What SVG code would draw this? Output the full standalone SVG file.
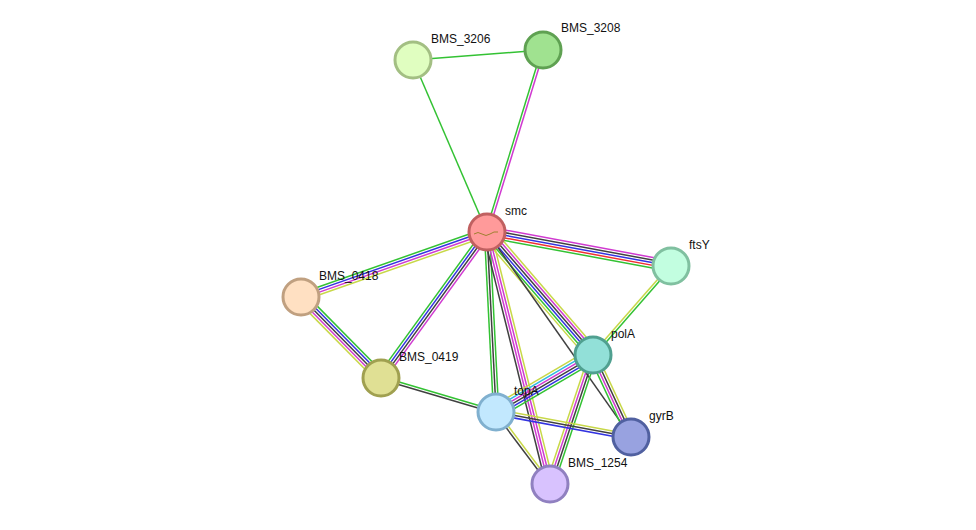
<svg xmlns="http://www.w3.org/2000/svg" width="976" height="530" viewBox="0 0 976 530">
<style>
line{stroke-width:1.5;fill:none}
.g{stroke:#33c233}.m{stroke:#d03ad0}.b{stroke:#3333e0}.k{stroke:#404040}.y{stroke:#c8d848}.r{stroke:#f03030}.c{stroke:#30b8e0}
circle{stroke-width:3}
text{font-family:"Liberation Sans",Arial,sans-serif;font-size:12px;fill:#111}
</style>
<rect width="976" height="530" fill="#fff"/>
<g id="edges">
<g transform="translate(413,60) rotate(-4.4)"><line class="g" x1="0" y1="0" x2="130" y2="0"/></g>
<g transform="translate(487,232) rotate(-113.3)"><line class="g" x1="0" y1="0" x2="187" y2="0"/></g>
<g transform="translate(487,232) rotate(-72.9)"><line class="g" x1="0" y1="-1.3" x2="190" y2="-1.3"/><line class="m" x1="0" y1="1.3" x2="190" y2="1.3"/></g>
<g transform="translate(487,232) rotate(10.5)"><line class="m" x1="0" y1="-5.2" x2="187" y2="-5.2"/><line class="k" x1="0" y1="-2.6" x2="187" y2="-2.6"/><line class="b" x1="0" y1="0" x2="187" y2="0"/><line class="r" x1="0" y1="2.6" x2="187" y2="2.6"/><line class="g" x1="0" y1="5.2" x2="187" y2="5.2"/></g>
<g transform="translate(487,232) rotate(160.7)"><line class="g" x1="0" y1="3.9" x2="197" y2="3.9"/><line class="b" x1="0" y1="1.3" x2="197" y2="1.3"/><line class="m" x1="0" y1="-1.3" x2="197" y2="-1.3"/><line class="y" x1="0" y1="-3.9" x2="197" y2="-3.9"/></g>
<g transform="translate(487,232) rotate(126)"><line class="g" x1="0" y1="3.9" x2="180" y2="3.9"/><line class="b" x1="0" y1="1.3" x2="180" y2="1.3"/><line class="k" x1="0" y1="-1.3" x2="180" y2="-1.3"/><line class="m" x1="0" y1="-3.9" x2="180" y2="-3.9"/></g>
<g transform="translate(487,232) rotate(49.2)"><line class="y" x1="0" y1="-6.5" x2="162" y2="-6.5"/><line class="m" x1="0" y1="-3.9" x2="162" y2="-3.9"/><line class="k" x1="0" y1="-1.3" x2="162" y2="-1.3"/><line class="b" x1="0" y1="1.3" x2="162" y2="1.3"/><line class="g" x1="0" y1="3.9" x2="162" y2="3.9"/><line class="y" x1="0" y1="6.5" x2="162" y2="6.5"/></g>
<g transform="translate(487,232) rotate(87.1)"><line class="g" x1="0" y1="-2.6" x2="180" y2="-2.6"/><line class="k" x1="0" y1="0" x2="180" y2="0"/><line class="g" x1="0" y1="2.6" x2="180" y2="2.6"/></g>
<g transform="translate(487,232) rotate(76)"><line class="y" x1="0" y1="-3.9" x2="260" y2="-3.9"/><line class="m" x1="0" y1="-1.3" x2="260" y2="-1.3"/><line class="m" x1="0" y1="1.3" x2="260" y2="1.3"/><line class="k" x1="0" y1="3.9" x2="260" y2="3.9"/></g>
<g transform="translate(487,232) rotate(54.9)"><line class="k" x1="0" y1="0" x2="251" y2="0"/></g>
<g transform="translate(671,266) rotate(131.2)"><line class="g" x1="0" y1="-1.3" x2="118" y2="-1.3"/><line class="y" x1="0" y1="1.3" x2="118" y2="1.3"/></g>
<g transform="translate(301,297) rotate(45.4)"><line class="y" x1="0" y1="5.2" x2="114" y2="5.2"/><line class="m" x1="0" y1="2.6" x2="114" y2="2.6"/><line class="k" x1="0" y1="0" x2="114" y2="0"/><line class="b" x1="0" y1="-2.6" x2="114" y2="-2.6"/><line class="g" x1="0" y1="-5.2" x2="114" y2="-5.2"/></g>
<g transform="translate(381,378) rotate(16.5)"><line class="g" x1="0" y1="-1.3" x2="120" y2="-1.3"/><line class="k" x1="0" y1="1.3" x2="120" y2="1.3"/></g>
<g transform="translate(593,355) rotate(149.6)"><line class="g" x1="0" y1="-6.5" x2="112.5" y2="-6.5"/><line class="b" x1="0" y1="-3.9" x2="112.5" y2="-3.9"/><line class="k" x1="0" y1="-1.3" x2="112.5" y2="-1.3"/><line class="m" x1="0" y1="1.3" x2="112.5" y2="1.3"/><line class="c" x1="0" y1="3.9" x2="112.5" y2="3.9"/><line class="y" x1="0" y1="6.5" x2="112.5" y2="6.5"/></g>
<g transform="translate(593,355) rotate(65.1)"><line class="y" x1="0" y1="-3.9" x2="90" y2="-3.9"/><line class="k" x1="0" y1="-1.3" x2="90" y2="-1.3"/><line class="m" x1="0" y1="1.3" x2="90" y2="1.3"/><line class="g" x1="0" y1="3.9" x2="90" y2="3.9"/></g>
<g transform="translate(593,355) rotate(108.4)"><line class="g" x1="0" y1="-3.9" x2="136" y2="-3.9"/><line class="k" x1="0" y1="-1.3" x2="136" y2="-1.3"/><line class="m" x1="0" y1="1.3" x2="136" y2="1.3"/><line class="y" x1="0" y1="3.9" x2="136" y2="3.9"/></g>
<g transform="translate(496,412) rotate(10.5)"><line class="y" x1="0" y1="-2.6" x2="137" y2="-2.6"/><line class="k" x1="0" y1="0" x2="137" y2="0"/><line class="b" x1="0" y1="2.6" x2="137" y2="2.6"/></g>
<g transform="translate(496,412) rotate(53.1)"><line class="y" x1="0" y1="-1.3" x2="90" y2="-1.3"/><line class="k" x1="0" y1="1.3" x2="90" y2="1.3"/></g>
</g>
<g id="BMS_3206"><circle cx="413" cy="60" r="18" fill="#e0fec0" stroke="#a3bf83"/><text x="431" y="43">BMS_3206</text></g>
<g id="BMS_3208"><circle cx="543" cy="50" r="18" fill="#a0e290" stroke="#5fa152"/><text x="561" y="32">BMS_3208</text></g>
<g id="smc"><circle cx="487" cy="232" r="18" fill="#ff9a9a" stroke="#c06060"/><path d="M474 234 q4 -3 8 0 t8 0 t8 -2" stroke="#a08030" stroke-width="1" fill="none"/><text x="505" y="215">smc</text></g>
<g id="ftsY"><circle cx="671" cy="266" r="18" fill="#c2fee0" stroke="#80c0a0"/><text x="689" y="249">ftsY</text></g>
<g id="BMS_0418"><circle cx="301" cy="297" r="18" fill="#ffe0c2" stroke="#c0a080"/><text x="319" y="280">BMS_0418</text></g>
<g id="BMS_0419"><circle cx="381" cy="378" r="18" fill="#e0e094" stroke="#a0a050"/><text x="399" y="361">BMS_0419</text></g>
<g id="polA"><circle cx="593" cy="355" r="18" fill="#92e0d8" stroke="#50a090"/><text x="611" y="338">polA</text></g>
<g id="topA"><circle cx="496" cy="412" r="18" fill="#c2e8fe" stroke="#80b0cf"/><text x="514" y="395">topA</text></g>
<g id="gyrB"><circle cx="631" cy="437" r="18" fill="#98a2e0" stroke="#5060a0"/><text x="649" y="420">gyrB</text></g>
<g id="BMS_1254"><circle cx="550" cy="484" r="18" fill="#d8c2fe" stroke="#9080c0"/><text x="568" y="467">BMS_1254</text></g>
</svg>
